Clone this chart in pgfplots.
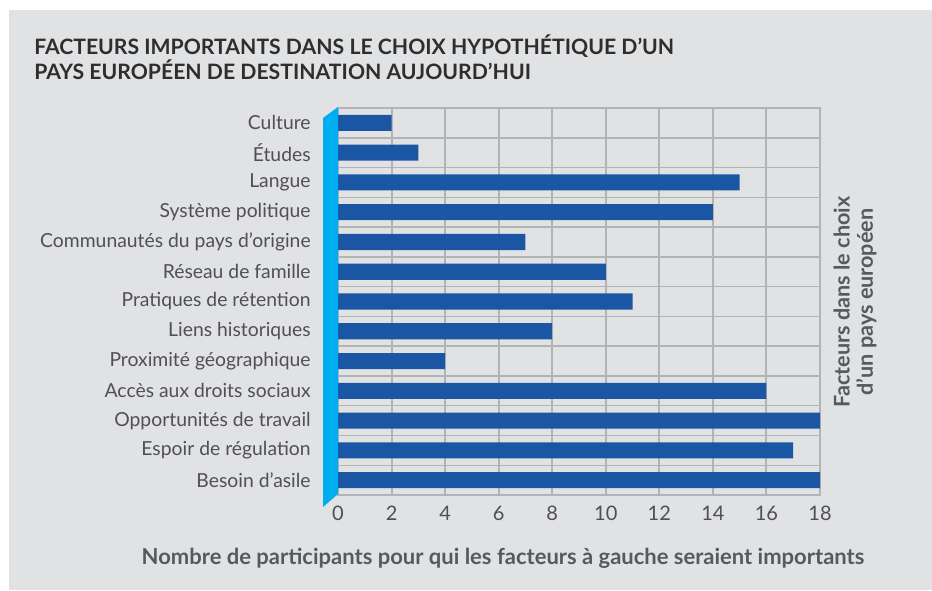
\documentclass[border=0pt]{standalone}
\usepackage{fontspec}
\setmainfont{Lato}
\usepackage{pgfplots}
\pgfplotsset{compat=1.18}
\definecolor{panel}{HTML}{E1E2E4}
\definecolor{barblue}{HTML}{1B56A4}
\definecolor{wall}{HTML}{00AEEF}
\definecolor{gridgray}{HTML}{B2B3B5}
\definecolor{txt}{HTML}{505052}
\definecolor{lab}{HTML}{58595B}

\pgfplotstableread{
y val
0 18
1 17
2 18
3 16
4 4
5 8
6 11
7 10
8 7
9 14
10 15
11 3
12 2
}\facteurs

\begin{document}
% coordinates in image pixels, origin bottom left (y = 590 - row)
\begin{tikzpicture}[x=0.75pt,y=0.75pt]
\path[use as bounding box,fill=white] (0,0) rectangle (932,590);
\fill[panel] (9,0) rectangle (932,580);

\node[anchor=north west,align=left,text=black!82,inner sep=0pt,
  font=\bfseries\fontsize{15.9}{15}\selectfont] at (34,555)
  {FACTEURS IMPORTANTS DANS LE CHOIX HYPOTHÉTIQUE D’UN\\PAYS EUROPÉEN DE DESTINATION AUJOURD’HUI};

\begin{axis}[
  at={(338pt*0.75,95pt*0.75)}, anchor=south west,
  scale only axis, width=361.5pt, height=290.25pt,
  xbar, bar width=0.54,
  xmin=0, xmax=18, ymin=-0.5, ymax=12.5,
  xtick={0,2,...,18},
  ytick={0,...,12},
  yticklabels={Besoin d’asile,Espoir de régulation,Opportunités de travail,Accès aux droits sociaux,Proximité géographique,Liens historiques,Pratiques de rétention,Réseau de famille,Communautés du pays d’origine,Système politique,Langue,Études,Culture},
  minor ytick={-0.5,0.5,...,12.5},
  xmajorgrids, yminorgrids,
  major grid style={gridgray,line width=1.5pt},
  minor grid style={gridgray,line width=1.1pt},
  axis line style={gridgray,line width=1.1pt},
  major tick length=0pt, minor tick length=0pt,
  /pgf/number format/assume math mode=true,
  yticklabel style={font=\fontsize{14.5}{16}\selectfont,text=txt,xshift=-17pt},
  xticklabel style={font=\fontsize{15}{17}\selectfont,text=txt,yshift=-5pt},
]
\addplot[fill=barblue,draw=none] table[x=val,y=y] {\facteurs};
\end{axis}

\fill[wall] (323,472) -- (338,483) -- (338,96) -- (323,83) -- cycle;

\node[text=lab,font=\bfseries\fontsize{16.5}{18}\selectfont] at (503,32)
  {Nombre de participants pour qui les facteurs à gauche seraient importants};
\node[rotate=90,align=center,text=lab,font=\bfseries\fontsize{16.2}{17.3}\selectfont] at (855,288)
  {Facteurs dans le choix\\d’un pays européen};
\end{tikzpicture}
\end{document}
